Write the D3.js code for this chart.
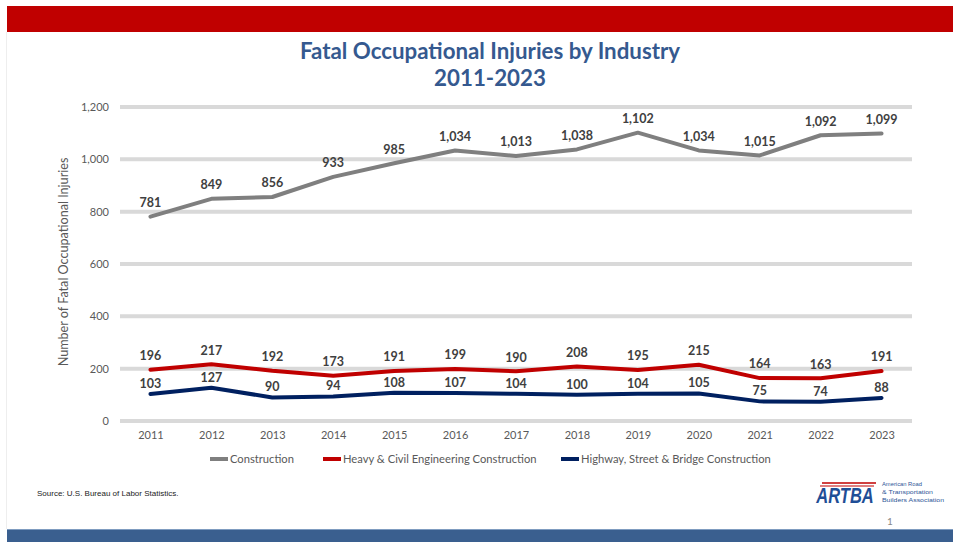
<!DOCTYPE html>
<html><head><meta charset="utf-8">
<script src="https://cdn.jsdelivr.net/npm/d3@7"></script>
<style>html,body{margin:0;padding:0;background:#fff;overflow:hidden}</style>
</head><body>
<svg id="c" width="953" height="542"></svg>
<script>
const years = ["2011","2012","2013","2014","2015","2016","2017","2018","2019","2020","2021","2022","2023"];
const construction = [781,849,856,933,985,1034,1013,1038,1102,1034,1015,1092,1099];
const heavyCivil = [196,217,192,173,191,199,190,208,195,215,164,163,191];
const highway = [103,127,90,94,108,107,104,100,104,105,75,74,88];
const yTicks = [0,200,400,600,800,1000,1200];
const seriesNames = ["Construction","Heavy & Civil Engineering Construction","Highway, Street & Bridge Construction"];
const seriesColors = ["#7f7f7f","#c00000","#002060"];
const labelOffsets = [14,14,10.5];

const svg = d3.select("#c");
const F = "Lato, 'Open Sans', sans-serif";

// page frame
svg.append("rect").attr("x",7).attr("y",6).attr("width",946).attr("height",26).attr("fill","#c00000");
svg.append("rect").attr("x",7).attr("y",529).attr("width",946).attr("height",13).attr("fill","#3a5f8f");
svg.append("line").attr("x1",7).attr("x2",953).attr("y1",529.5).attr("y2",529.5).attr("stroke","#7f9cc0").attr("stroke-width",1);
svg.append("line").attr("x1",6.5).attr("x2",6.5).attr("y1",32).attr("y2",529).attr("stroke","#eeeeee").attr("stroke-width",1);

// title
svg.append("text").attr("x",490).attr("y",59).attr("text-anchor","middle")
  .attr("font-family",F).attr("font-weight","bold").attr("font-size",22.3).attr("fill","#35598f")
  .text("Fatal Occupational Injuries by Industry");
svg.append("text").attr("x",490).attr("y",86).attr("text-anchor","middle")
  .attr("font-family",F).attr("font-weight","bold").attr("font-size",22.3).attr("fill","#35598f")
  .text("2011-2023");

const x = d3.scalePoint().domain(years).range([120,912]).padding(0.5);
const y = d3.scaleLinear().domain([0,1200]).range([421,107]);

// gridlines
svg.append("g").selectAll("line").data(yTicks).join("line")
  .attr("x1",120).attr("x2",912).attr("y1",d=>y(d)).attr("y2",d=>y(d))
  .attr("stroke","#d9d9d9").attr("stroke-width",4);

// y axis
const yAxis = svg.append("g").attr("transform","translate(120,0)")
  .call(d3.axisLeft(y).tickValues(yTicks).tickFormat(d3.format(",")).tickSize(0).tickPadding(11));
yAxis.select(".domain").remove();
yAxis.selectAll("text").attr("font-family",F).attr("font-size",11).attr("fill","#595959");

// x axis
const xAxis = svg.append("g").attr("transform","translate(0,421)")
  .call(d3.axisBottom(x).tickSize(0).tickPadding(10));
xAxis.select(".domain").remove();
xAxis.selectAll("text").attr("font-family",F).attr("font-size",11).attr("fill","#595959");

// y title
svg.append("text").attr("transform","translate(68,262) rotate(-90)").attr("text-anchor","middle")
  .attr("font-family",F).attr("font-size",12.6).attr("fill","#595959")
  .text("Number of Fatal Occupational Injuries");

const data = [construction, heavyCivil, highway];
const line = d3.line().x((d,i)=>x(years[i])).y(d=>y(d));
data.forEach((s,k)=>{
  svg.append("path").datum(s).attr("d",line).attr("fill","none")
    .attr("stroke",seriesColors[k]).attr("stroke-width",4)
    .attr("stroke-linejoin","round").attr("stroke-linecap","round");
});
data.forEach((s,k)=>{
  svg.append("g").selectAll("text").data(s).join("text")
    .attr("x",(d,i)=>x(years[i])).attr("y",d=>y(d)-labelOffsets[k])
    .attr("dy","0.35em").attr("text-anchor","middle")
    .attr("font-family",F).attr("font-weight","bold").attr("font-size",12.5).attr("fill","#404040")
    .text(d=>d3.format(",")(d));
});

// legend
const legX = [210,323,561];
const leg = svg.append("g");
seriesNames.forEach((n,k)=>{
  leg.append("line").attr("x1",legX[k]).attr("x2",legX[k]+18).attr("y1",459).attr("y2",459)
    .attr("stroke",seriesColors[k]).attr("stroke-width",4);
  leg.append("text").attr("x",legX[k]+20).attr("y",459).attr("dy","0.35em")
    .attr("font-family",F).attr("font-size",11.2).attr("fill","#595959").text(n);
});

// source
svg.append("text").attr("x",37).attr("y",496).attr("font-family","'Liberation Sans Narrow','Liberation Sans',sans-serif")
  .attr("font-size",8).attr("fill","#222").text("Source: U.S. Bureau of Labor Statistics.");

// logo
const lg = svg.append("g");
lg.append("line").attr("x1",822).attr("x2",876).attr("y1",483).attr("y2",483).attr("stroke","#c00000").attr("stroke-width",1.5);
lg.append("line").attr("x1",820).attr("x2",874).attr("y1",486).attr("y2",486).attr("stroke","#c00000").attr("stroke-width",1);
lg.append("text").attr("transform","translate(845,503) scale(1,1.3)").attr("text-anchor","middle")
  .attr("font-family","'Liberation Sans',sans-serif").attr("font-weight","bold").attr("font-style","italic")
  .attr("font-size",16.5).attr("fill","#1f4e96").text("ARTBA");
["American Road","& Transportation","Builders Association"].forEach((t,i)=>{
  lg.append("text").attr("x",882).attr("y",486+i*7.8).attr("font-family","'Liberation Sans',sans-serif")
    .attr("font-size",5.4).attr("fill","#2e5597").attr("textLength",i===2?62:(i===1?51:40))
    .attr("lengthAdjust","spacingAndGlyphs").text(t);
});
svg.append("text").attr("x",890).attr("y",525).attr("text-anchor","middle").attr("font-family",F)
  .attr("font-size",10).attr("fill","#888").text("1");
</script>
</body></html>
